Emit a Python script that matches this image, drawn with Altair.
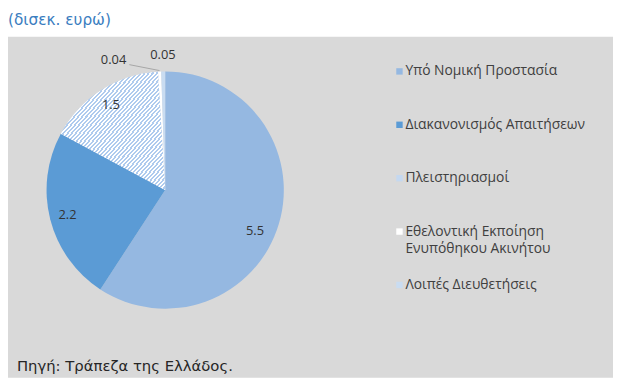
import altair as alt
import pandas as pd

# ---- data ----
CATS = [
    "Υπό Νομική Προστασία",
    "Διακανονισμός Απαιτήσεων",
    "Πλειστηριασμοί",
    "Εθελοντική Εκποίηση Ενυπόθηκου Ακινήτου",
    "Λοιπές Διευθετήσεις",
]
VALUES = [5.5, 2.2, 1.5, 0.04, 0.05]
LEGEND_LINE1 = ["Υπό Νομική Προστασία", "Διακανονισμός Απαιτήσεων", "Πλειστηριασμοί",
                "Εθελοντική Εκποίηση", "Λοιπές Διευθετήσεις"]
LEGEND_LINE2 = ["", "", "", "Ενυπόθηκου Ακινήτου", ""]
UNIT_TITLE = "(δισεκ. ευρώ)"
SOURCE = ["Πηγή: Τράπεζα της Ελλάδος."]

# ---- styling ----
COLORS = ["#95b8e1", "#5b9bd5", "#c4d8f0", "#ffffff", "#c9dcf1"]
CX, CY, R = 159, 155, 120
LABEL_FONT = "Open Sans"
TEXT_COL = "#333333"

df = pd.DataFrame({
    "cat": CATS, "v": VALUES, "idx": list(range(len(CATS))),
    "l1": LEGEND_LINE1, "l2": LEGEND_LINE2,
})


def hatch(c1, c2, n=40, frac=0.5):
    stops = []
    for i in range(n):
        a = i / n
        b = (i + frac) / n
        c = (i + 1) / n
        stops += [
            {"offset": a, "color": c1},
            {"offset": b, "color": c1},
            {"offset": b, "color": c2},
            {"offset": c, "color": c2},
        ]
    return {"gradient": "linear", "x1": 0, "y1": 0, "x2": 1, "y2": 1, "stops": stops}


GRAD = hatch("#afcbee", "#ffffff", n=52, frac=0.5)
COLOR_SCALE = alt.Scale(domain=CATS, range=COLORS)

base = alt.Chart(df).encode(
    theta=alt.Theta("v:Q", stack=True),
    order=alt.Order("idx:Q"),
)

pie = base.mark_arc(radius=R).encode(
    x=alt.value(CX),
    y=alt.value(CY),
    color=alt.Color("cat:N", sort=CATS, scale=COLOR_SCALE, legend=None),
)

hatch_layer = base.mark_arc(radius=R).encode(
    x=alt.value(CX),
    y=alt.value(CY),
    detail="cat:N",
    fill=alt.when(alt.datum.cat == CATS[2]).then(alt.value(GRAD)).otherwise(alt.value("transparent")),
)


def label_layer(expr, radius, dx=0, dy=0):
    return (
        base.transform_calculate(lab=expr)
        .mark_text(radius=radius, dx=dx, dy=dy, font=LABEL_FONT, fontSize=13, color=TEXT_COL)
        .encode(x=alt.value(CX), y=alt.value(CY), text="lab:N", detail="cat:N")
    )


lab_mid = label_layer("datum.idx == 1 || datum.idx == 2 ? '' + datum.v : ''", 102)
lab_big = label_layer("datum.idx == 0 ? '' + datum.v : ''", 100, dx=-5, dy=13)
lab_004 = label_layer("datum.idx == 3 ? '' + datum.v : ''", 132, dx=-46)
lab_005 = label_layer("datum.idx == 4 ? '' + datum.v : ''", 137)

leader = (
    alt.Chart(df)
    .transform_joinaggregate(total="sum(v)")
    .transform_window(cum="sum(v)", sort=[alt.SortField("idx")], frame=[None, 0])
    .transform_calculate(t="(datum.cum - datum.v / 2) / datum.total * 2 * PI")
    .transform_filter(alt.datum.idx == 3)
    .transform_calculate(
        ax=f"{CX} + {R + 1} * sin(datum.t)",
        ay=f"{CY} - {R + 1} * cos(datum.t)",
        bx=f"{CX} + 132 * sin(datum.t) - 46 + 16",
        by=f"{CY} - 132 * cos(datum.t) + 5",
    )
    .mark_rule(color="#a6a6a6", strokeWidth=1)
    .encode(
        x=alt.X("ax:Q", scale=None, axis=None),
        y=alt.Y("ay:Q", scale=None, axis=None),
        x2="bx:Q",
        y2="by:Q",
    )
)

# ---- legend built from the same categories ----
LEG_Y = alt.Y("cat:N", sort=CATS, scale=alt.Scale(type="point", domain=CATS, range=[35, 251], padding=0), axis=None)
leg_base = alt.Chart(df).encode(y=LEG_Y)
leg_sym = leg_base.mark_square(size=42, opacity=1, strokeWidth=0).encode(
    x=alt.value(396),
    color=alt.Color("cat:N", sort=CATS, scale=COLOR_SCALE, legend=None),
)
leg_txt1 = leg_base.mark_text(
    align="left", baseline="middle", font=LABEL_FONT, fontSize=14, color="#404040"
).encode(x=alt.value(402), text="l1:N")
leg_txt2 = leg_base.mark_text(
    align="left", baseline="middle", dy=18, font=LABEL_FONT, fontSize=14, color="#404040"
).encode(x=alt.value(402), text="l2:N")

src = (
    alt.Chart(pd.DataFrame({"t": SOURCE}))
    .mark_text(align="left", baseline="middle", font="DejaVu Sans", fontSize=15, color="#262626")
    .encode(x=alt.value(9), y=alt.value(333), text="t:N")
)

chart = (
    alt.layer(pie, hatch_layer, lab_mid, lab_big, lab_004, lab_005, leader,
              leg_sym, leg_txt1, leg_txt2, src)
    .resolve_scale(x="independent", y="independent")
    .properties(
        width=612,
        height=345,
        padding={"left": 0, "top": 27, "right": 0, "bottom": 0},
        autosize=alt.AutoSizeParams(type="none"),
        title=alt.TitleParams(
            UNIT_TITLE,
            anchor="start",
            frame="group",
            font="DejaVu Sans",
            fontSize=15.5,
            fontWeight="normal",
            color="#3a7dc0",
            offset=8,
        ),
    )
    .configure(background="white")
    .configure_view(fill="#d9d9d9", strokeWidth=0)
)

chart.save("out.html", embed_options={"renderer": "svg", "actions": False})
